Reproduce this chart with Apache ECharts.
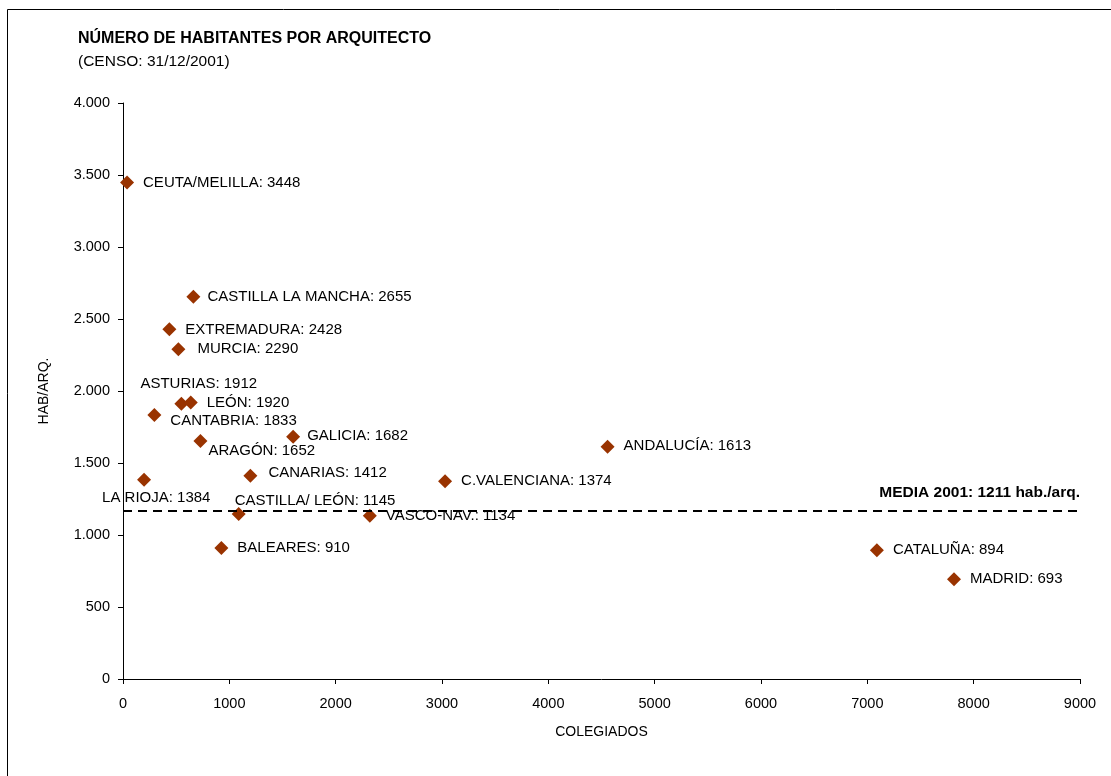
<!DOCTYPE html>
<html>
<head>
<meta charset="utf-8">
<script src="https://cdn.jsdelivr.net/npm/echarts@6/dist/echarts.min.js"></script>
<style>
html,body{margin:0;padding:0;background:#fff;}
#c{width:1111px;height:776px;}
</style>
</head>
<body>
<div id="c"></div>
<script>
// Data
var regions = ["CEUTA/MELILLA","CASTILLA LA MANCHA","EXTREMADURA","MURCIA","ASTURIAS","LEÓN","CANTABRIA","ARAGÓN","GALICIA","CANARIAS","LA RIOJA","CASTILLA/ LEÓN","VASCO-NAV.","BALEARES","C.VALENCIANA","ANDALUCÍA","CATALUÑA","MADRID"];
var colegiados = [38, 662, 436, 521, 549, 637, 295, 728, 1600, 1198, 198, 1088, 2321, 925, 3029, 4557, 7090, 7815];
var habArq = [3448, 2655, 2428, 2290, 1912, 1920, 1833, 1652, 1682, 1412, 1384, 1145, 1134, 910, 1374, 1613, 894, 693];
var mediaValue = 1170;
var mediaLabel = "MEDIA 2001: 1211 hab./arq.";
var yTicks = [0, 500, 1000, 1500, 2000, 2500, 3000, 3500, 4000];
var xTicks = [0, 1000, 2000, 3000, 4000, 5000, 6000, 7000, 8000, 9000];

// Label placement (offset of label's left edge / vertical centre from the marker centre)
var labelOffsets = {
  "CASTILLA LA MANCHA": [14, 0],
  "MURCIA": [19, 0],
  "ASTURIAS": [-41, -20],
  "CANTABRIA": [16, 6],
  "ARAGÓN": [8, 10],
  "GALICIA": [14, -1],
  "CANARIAS": [18, -3],
  "LA RIOJA": [-42, 18],
  "CASTILLA/ LEÓN": [-4, -13],
  "ANDALUCÍA": [16, -1]
};

var SYM = 14;

function fmtThousands(v){
  return String(v).replace(/\B(?=(\d{3})+(?!\d))/g, ".");
}

var points = regions.map(function(name, i){
  var off = labelOffsets[name] || [16, 0];
  return {
    name: name,
    value: [colegiados[i], habArq[i]],
    label: { position: [SYM / 2 + off[0], SYM / 2 + off[1]] }
  };
});

var FONT = "Liberation Sans, Arial, sans-serif";
var chart = echarts.init(document.getElementById('c'), null, {renderer: 'canvas'});
chart.setOption({
  backgroundColor: '#ffffff',
  animation: false,
  title: {
    text: "NÚMERO DE HABITANTES POR ARQUITECTO",
    subtext: "(CENSO: 31/12/2001)",
    left: 78,
    top: 31,
    padding: 0,
    itemGap: 7,
    textStyle: { fontFamily: FONT, fontSize: 16, fontWeight: 'bold', color: '#000', lineHeight: 16 },
    subtextStyle: { fontFamily: FONT, fontSize: 15.5, color: '#000', lineHeight: 16 }
  },
  graphic: [{
    type: 'rect',
    shape: { x: 7.5, y: 9.5, width: 1300, height: 1000 },
    style: { fill: 'none', stroke: '#000', lineWidth: 1 },
    silent: true
  }],
  grid: { left: 123, right: 31, top: 103, bottom: 97, containLabel: false },
  xAxis: {
    type: 'value',
    min: xTicks[0],
    max: xTicks[xTicks.length - 1],
    interval: 1000,
    name: "COLEGIADOS",
    nameLocation: 'middle',
    nameGap: 46,
    nameTextStyle: { fontFamily: FONT, fontSize: 14, color: '#000' },
    axisLine: { show: true, onZero: false, lineStyle: { color: '#000', width: 1 } },
    axisTick: { show: true, inside: false, length: 5, lineStyle: { color: '#000' } },
    axisLabel: { fontFamily: FONT, fontSize: 14.5, color: '#000', margin: 17, formatter: function(v){ return String(v); } },
    splitLine: { show: false }
  },
  yAxis: {
    type: 'value',
    min: yTicks[0],
    max: yTicks[yTicks.length - 1],
    interval: 500,
    name: "HAB/ARQ.",
    nameLocation: 'middle',
    nameGap: 72,
    nameRotate: 90,
    nameTextStyle: { fontFamily: FONT, fontSize: 14, color: '#000' },
    axisLine: { show: true, onZero: false, lineStyle: { color: '#000', width: 1 } },
    axisTick: { show: true, inside: false, length: 5, lineStyle: { color: '#000' } },
    axisLabel: { fontFamily: FONT, fontSize: 14.5, color: '#000', margin: 13, formatter: fmtThousands },
    splitLine: { show: false }
  },
  series: [{
    type: 'scatter',
    symbol: 'diamond',
    symbolSize: SYM,
    itemStyle: { color: '#993300', opacity: 1 },
    label: {
      show: true,
      align: 'left',
      verticalAlign: 'middle',
      fontFamily: FONT,
      fontSize: 15,
      color: '#000',
      formatter: function(p){ return p.name + ": " + p.value[1]; }
    },
    labelLayout: { hideOverlap: false },
    data: points,
    markLine: {
      silent: true,
      symbol: ['none', 'none'],
      lineStyle: { color: '#000', type: [9, 6], width: 2 },
      label: {
        show: true,
        position: 'insideEndTop',
        formatter: mediaLabel,
        fontFamily: FONT,
        fontSize: 15.5,
        fontWeight: 'bold',
        color: '#000',
        distance: [0, 10]
      },
      data: [{ yAxis: mediaValue }]
    }
  }]
});
</script>
</body>
</html>
